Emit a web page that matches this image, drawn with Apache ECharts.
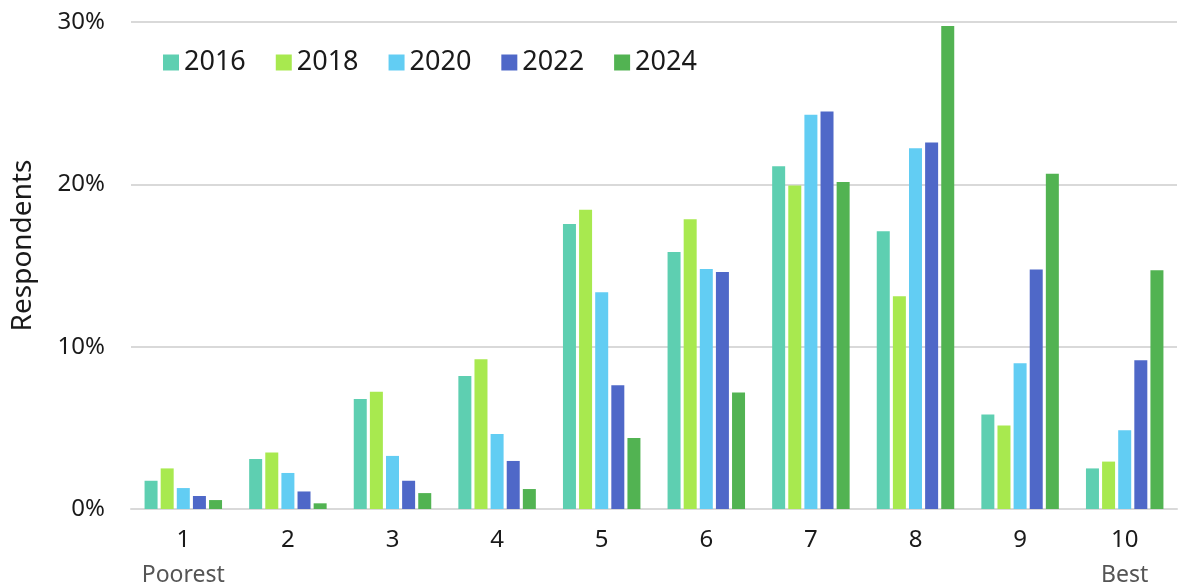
<!DOCTYPE html>
<html>
<head>
<meta charset="utf-8">
<script src="https://cdn.jsdelivr.net/npm/echarts@6/dist/echarts.min.js"></script>
<style>
  html, body { margin: 0; padding: 0; background: #fff; }
  #chart { width: 1180px; height: 588px; }
</style>
</head>
<body>
<div id="chart"></div>
<script>
const categories = ["1", "2", "3", "4", "5", "6", "7", "8", "9", "10"];
const endNotes = { 0: "Poorest", 9: "Best" };
const years = ["2016", "2018", "2020", "2022", "2024"];
const colors = ["#5ecfb1", "#a8e94f", "#62cdf3", "#4f68c8", "#52b352"];

const data2016 = [1.74, 3.08, 6.78, 8.2, 17.56, 15.83, 21.12, 17.11, 5.82, 2.5];
const data2018 = [2.5, 3.48, 7.23, 9.23, 18.43, 17.85, 19.93, 13.1, 5.14, 2.92];
const data2020 = [1.29, 2.22, 3.27, 4.62, 13.35, 14.78, 24.29, 22.23, 8.98, 4.85];
const data2022 = [0.8, 1.08, 1.74, 2.96, 7.62, 14.6, 24.48, 22.58, 14.75, 9.17];
const data2024 = [0.55, 0.35, 0.98, 1.23, 4.37, 7.17, 20.15, 29.75, 20.65, 14.7];
const seriesData = [data2016, data2018, data2020, data2022, data2024];

const font = "Noto Sans";

let chart = echarts.init(document.getElementById("chart"));
chart.setOption({
  animation: false,
  textStyle: { fontFamily: font },
  legend: {
    data: years,
    left: 158,
    top: 44,
    itemWidth: 16,
    itemHeight: 16,
    itemGap: 30,
    icon: "rect",
    textStyle: { fontSize: 27, color: "#1a1a1a", fontFamily: font }
  },
  grid: { left: 131, right: 3, top: 22, bottom: 79, outerBoundsMode: "none" },
  xAxis: {
    type: "category",
    data: categories,
    axisLine: { lineStyle: { color: "#d9d9d9", width: 2 } },
    axisTick: { show: false },
    axisLabel: {
      margin: 16,
      interval: 0,
      formatter: (v, i) => endNotes[i] ? v + "\n{note|" + endNotes[i] + "}" : v,
      fontSize: 24,
      color: "#1a1a1a",
      lineHeight: 30,
      rich: {
        note: { fontSize: 23, color: "#555555", fontFamily: font, lineHeight: 36, padding: [4, 0, 0, 0] }
      }
    }
  },
  yAxis: {
    type: "value",
    min: 0,
    max: 30,
    interval: 10,
    name: "Respondents",
    nameLocation: "middle",
    nameGap: 94,
    nameTextStyle: { fontSize: 28, color: "#1a1a1a", fontFamily: font, padding: [0, 0, 0, 40] },
    axisLine: { show: false },
    axisTick: { show: false },
    splitLine: { lineStyle: { color: "#d9d9d9", width: 2 } },
    axisLabel: {
      formatter: "{value}%",
      fontSize: 24,
      color: "#1a1a1a",
      margin: 26
    }
  },
  series: years.map((y, k) => ({
    name: y,
    type: "bar",
    data: seriesData[k],
    barWidth: 13,
    barGap: "24%",
    itemStyle: { color: colors[k] }
  }))
});
</script>
</body>
</html>
